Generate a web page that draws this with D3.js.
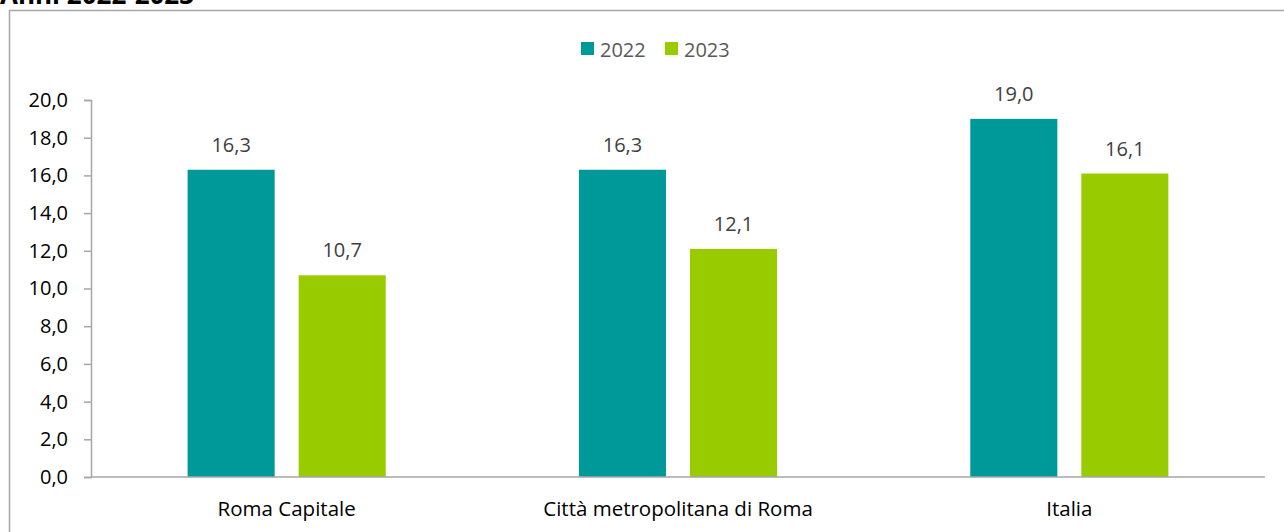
<!DOCTYPE html>
<html>
<head>
<meta charset="utf-8">
<script src="https://d3js.org/d3.v7.min.js"></script>
<style>
  body { margin: 0; background: #fff; }
  text { font-family: "Open Sans", "Liberation Sans", sans-serif; }
</style>
</head>
<body>
<div id="chart"></div>
<script>
// dati
var categories = ["Roma Capitale", "Città metropolitana di Roma", "Italia"];
var years = ["2022", "2023"];
var values2022 = [16.3, 16.3, 19.0];
var values2023 = [10.7, 12.1, 16.1];
var yTicks = [0, 2, 4, 6, 8, 10, 12, 14, 16, 18, 20];
var colors = ["#009999", "#99cc00"];

var width = 1284, height = 532;
var fmt = function(v) { return d3.format(".1f")(v).replace(".", ","); };

var svg = d3.select("#chart").append("svg")
  .attr("width", width)
  .attr("height", height);

// titolo tagliato in alto
svg.append("text")
  .attr("x", 0)
  .attr("y", 3.5)
  .attr("font-size", 26)
  .attr("font-weight", "bold")
  .attr("fill", "#000")
  .text("Anni 2022-2023");

// cornice
svg.append("rect")
  .attr("x", 9.5)
  .attr("y", 10.5)
  .attr("width", 1290)
  .attr("height", 540)
  .attr("fill", "none")
  .attr("stroke", "#a6a6a6")
  .attr("stroke-width", 1.5);

var plotLeft = 91, plotRight = 1265, plotTop = 100, plotBottom = 477;

var x0 = d3.scaleBand().domain(categories).range([plotLeft, plotRight]);
var x1 = d3.scaleBand().domain(years).range([0, x0.bandwidth()]).paddingInner(0.216).paddingOuter(0.87);
var y = d3.scaleLinear().domain([0, 20]).range([plotBottom, plotTop]);

// asse y
var yAxis = svg.append("g")
  .attr("transform", "translate(" + plotLeft + ",0)")
  .call(d3.axisLeft(y).tickValues(yTicks).tickSize(7).tickPadding(16).tickFormat(fmt));
yAxis.select(".domain").attr("stroke", "#a6a6a6").attr("stroke-width", 1.5);
yAxis.selectAll(".tick line").attr("stroke", "#a6a6a6").attr("stroke-width", 1.5);
yAxis.selectAll(".tick text").attr("font-size", 20).attr("fill", "#000")
  .attr("font-family", "'Open Sans', sans-serif");

var rows = categories.map(function(c, i) {
  return { cat: c, vals: [values2022[i], values2023[i]] };
});

var groups = svg.selectAll("g.cat")
  .data(rows).enter().append("g")
  .attr("class", "cat")
  .attr("transform", function(d) { return "translate(" + x0(d.cat) + ",0)"; });

groups.selectAll("rect")
  .data(function(d) { return d.vals.map(function(v, i) { return { year: years[i], v: v, i: i }; }); })
  .enter().append("rect")
  .attr("x", function(d) { return x1(d.year); })
  .attr("y", function(d) { return y(d.v); })
  .attr("width", x1.bandwidth())
  .attr("height", function(d) { return plotBottom - y(d.v); })
  .attr("fill", function(d) { return colors[d.i]; });

groups.selectAll("text.val")
  .data(function(d) { return d.vals.map(function(v, i) { return { year: years[i], v: v }; }); })
  .enter().append("text")
  .attr("class", "val")
  .attr("x", function(d) { return x1(d.year) + x1.bandwidth() / 2; })
  .attr("y", function(d) { return y(d.v) - 18; })
  .attr("text-anchor", "middle")
  .attr("font-size", 20)
  .attr("fill", "#404040")
  .text(function(d) { return fmt(d.v); });

// asse x
var xAxis = svg.append("g")
  .attr("transform", "translate(0," + plotBottom + ")")
  .call(d3.axisBottom(x0).tickSize(0).tickPadding(24));
xAxis.select(".domain").attr("stroke", "#a6a6a6").attr("stroke-width", 1.5).attr("d", "M" + plotLeft + ",0H" + plotRight);
xAxis.selectAll(".tick text").attr("font-size", 20.5).attr("fill", "#000")
  .attr("font-family", "'Open Sans', sans-serif");

// legenda
var legend = svg.append("g").attr("transform", "translate(581,42)");
var li = legend.selectAll("g").data(years).enter().append("g")
  .attr("transform", function(d, i) { return "translate(" + (i * 84) + ",0)"; });
li.append("rect").attr("width", 13).attr("height", 13)
  .attr("fill", function(d, i) { return colors[i]; });
li.append("text").attr("x", 19).attr("y", 14.5)
  .attr("font-size", 20).attr("fill", "#595959")
  .text(function(d) { return d; });
</script>
</body>
</html>
